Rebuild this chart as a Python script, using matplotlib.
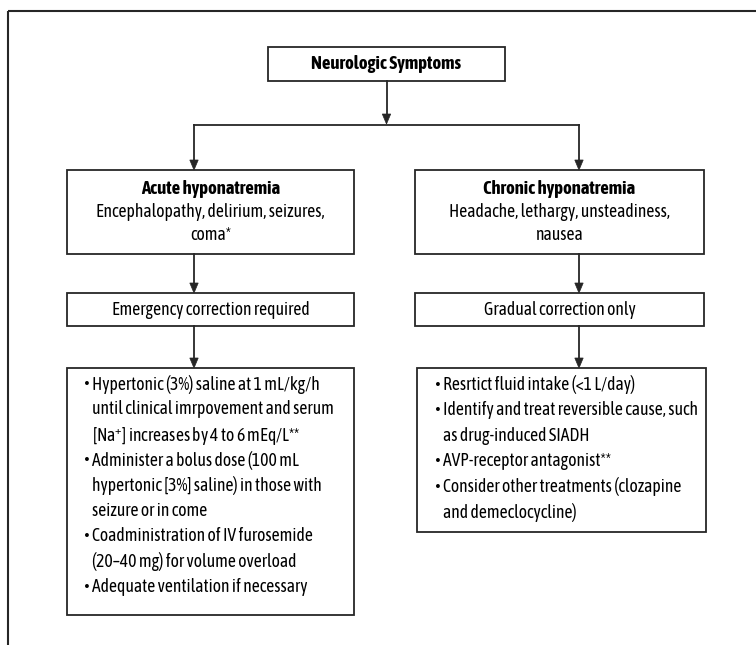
import matplotlib
matplotlib.use("Agg")
import matplotlib.pyplot as plt
from matplotlib.patches import Rectangle, Polygon

plt.rcParams['font.family'] = ['Asap Condensed', 'DejaVu Sans']
plt.rcParams['mathtext.fontset'] = 'custom'
plt.rcParams['mathtext.rm'] = 'Asap Condensed'
plt.rcParams['mathtext.it'] = 'Asap Condensed:italic'
plt.rcParams['mathtext.bf'] = 'Asap Condensed:bold'

# ---- text content ----
top_title = "Neurologic Symptoms"
left_title = "Acute hyponatremia"
left_desc = ["Encephalopathy, delirium, seizures,", "coma*"]
right_title = "Chronic hyponatremia"
right_desc = ["Headache, lethargy, unsteadiness,", "nausea"]
left_step = "Emergency correction required"
right_step = "Gradual correction only"
left_bullets = [
    ["Hypertonic (3%) saline at 1 mL/kg/h", "until clinical imrpovement and serum",
     r"[Na$^{+}$] increases by 4 to 6 mEq/L**"],
    ["Administer a bolus dose (100 mL", "hypertonic [3%] saline) in those with",
     "seizure or in come"],
    ["Coadministration of IV furosemide", "(20\u201340 mg) for volume overload"],
    ["Adequate ventilation if necessary"],
]
right_bullets = [
    ["Resrtict fluid intake (<1 L/day)"],
    ["Identify and treat reversible cause, such", "as drug-induced SIADH"],
    ["AVP-receptor antagonist**"],
    ["Consider other treatments (clozapine", "and demeclocycline)"],
]

W, H = 756, 645
fig = plt.figure(figsize=(W / 100, H / 100), dpi=100)
ax = fig.add_axes([0, 0, 1, 1])
ax.set_xlim(0, W)
ax.set_ylim(H, 0)
ax.axis('off')
renderer = fig.canvas.get_renderer()


def fit_size(s, target_px, weight='normal', base=11.0):
    t = ax.text(0, 0, s, fontsize=base, fontweight=weight)
    w = t.get_window_extent(renderer).width
    t.remove()
    return base * target_px / w


FS = fit_size("Identify and treat reversible cause, such", 255)
FSB = fit_size("Chronic hyponatremia", 153, weight='bold')

EC = '#262626'
LW = 1.3

# outer frame (top and left)
ax.plot([8, 8], [11, H], color=EC, lw=1.5, solid_capstyle='butt')
ax.plot([8, W], [11, 11], color=EC, lw=1.5, solid_capstyle='butt')


def box(x0, y0, x1, y1):
    ax.add_patch(Rectangle((x0, y0), x1 - x0, y1 - y0, fill=False, ec=EC, lw=LW))


def arrow(x, y0, y1, hl=10, hw=4.2):
    ax.plot([x, x], [y0, y1 - hl + 1], color=EC, lw=LW)
    ax.add_patch(Polygon([[x - hw, y1 - hl], [x + hw, y1 - hl], [x, y1]], closed=True,
                         fc=EC, ec=EC, lw=0.5))


# top box
box(268, 47, 505, 81)
ax.text(386.5, 64, top_title, ha='center', va='center', fontsize=FSB, fontweight='bold')
arrow(386.5, 81, 124)
ax.plot([194, 579], [125, 125], color=EC, lw=LW)

LX0, LX1 = 67, 354
RX0, RX1 = 415, 704
LA, RA = 194, 579
arrow(LA, 125, 170)
arrow(RA, 125, 170)

# level 2 boxes
box(LX0, 170, LX1, 254)
box(RX0, 170, RX1, 254)
for (x0, x1, t, d) in [(LX0, LX1, left_title, left_desc), (RX0, RX1, right_title, right_desc)]:
    cx = (x0 + x1) / 2
    ax.text(cx, 189, t, ha='center', va='center', fontsize=FSB, fontweight='bold')
    for i, line in enumerate(d):
        ax.text(cx, 212 + 23 * i, line, ha='center', va='center', fontsize=FS)

arrow(LA, 254, 293)
arrow(RA, 254, 293)

# level 3 boxes
box(LX0, 293, LX1, 326)
box(RX0, 293, RX1, 326)
ax.text((LX0 + LX1) / 2, 310, left_step, ha='center', va='center', fontsize=FS)
ax.text((RX0 + RX1) / 2, 310, right_step, ha='center', va='center', fontsize=FS)

arrow(LA, 326, 368)
arrow(RA, 326, 368)

# bullet boxes
box(67, 368, 354, 615)
box(417, 368, 706, 532)


def bullets(x0, y0, items, step=25.4):
    i = 0
    for item in items:
        for j, line in enumerate(item):
            y = y0 + step * i
            if j == 0:
                ax.text(x0, y + 2.5, "\u2022", ha='left', va='center', fontsize=FS * 0.75,
                        family='DejaVu Sans')
            ax.text(x0 + 9, y, line, ha='left', va='center_baseline', fontsize=FS)
            i += 1


bullets(83, 382, left_bullets)
bullets(434, 383, right_bullets)

fig.savefig("out.png", dpi=100)
